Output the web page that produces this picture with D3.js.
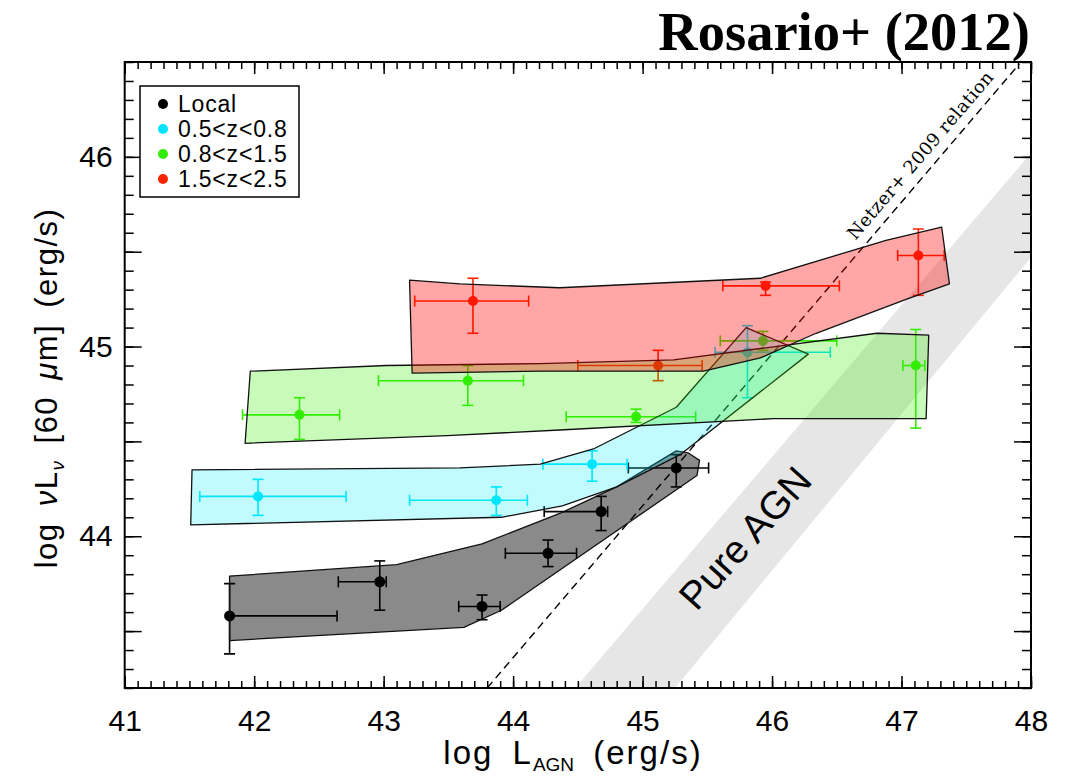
<!DOCTYPE html>
<html>
<head>
<meta charset="utf-8">
<script src="https://d3js.org/d3.v7.min.js"></script>
<style>
  body { margin: 0; background: white; }
  svg { display: block; }
  .tick text { font-family: "Liberation Sans", Arial, sans-serif; font-size: 30px; fill: black; }
  .tick line { stroke: black; stroke-width: 1.5; }
</style>
</head>
<body>
<svg width="1085" height="782"></svg>
<script>
// ---- data ----
// points: [x, y, xLow, xHigh, yLow, yHigh]
const localPts = [
  [41.81, 43.58, 41.81, 42.64, 43.38, 43.75],
  [42.97, 43.76, 42.65, 43.02, 43.61, 43.87],
  [43.76, 43.63, 43.58, 43.90, 43.56, 43.69],
  [44.27, 43.91, 43.94, 44.49, 43.84, 43.98],
  [44.68, 44.13, 44.24, 44.73, 44.03, 44.21],
  [45.26, 44.36, 44.89, 45.51, 44.26, 44.43]
];
const cyanPts = [
  [42.03, 44.21, 41.58, 42.71, 44.11, 44.30],
  [43.87, 44.19, 43.20, 44.11, 44.11, 44.26],
  [44.61, 44.38, 44.23, 44.88, 44.29, 44.45],
  [45.81, 44.97, 45.56, 46.45, 44.73, 45.11]
];
const greenPts = [
  [42.35, 44.64, 41.91, 42.66, 44.51, 44.73],
  [43.65, 44.82, 42.96, 44.08, 44.69, 44.90],
  [44.95, 44.63, 44.41, 45.41, 44.60, 44.67],
  [45.93, 45.03, 45.60, 46.50, 44.98, 45.08],
  [47.11, 44.90, 47.01, 47.18, 44.57, 45.09]
];
const redPts = [
  [43.69, 45.24, 43.24, 44.12, 45.07, 45.36],
  [45.12, 44.90, 44.50, 45.46, 44.82, 44.98],
  [45.95, 45.32, 45.62, 46.52, 45.27, 45.34],
  [47.13, 45.48, 46.97, 47.33, 45.27, 45.62]
];

// shaded regions: [x, y] vertices
const localPoly = [[41.81,43.79],[43.10,43.85],[43.76,43.96],[44.36,44.12],[44.80,44.26],[45.26,44.45],
  [45.35,44.44],[45.44,44.40],[45.42,44.32],[43.91,43.61],[43.62,43.52],[41.81,43.45]];
const cyanPoly = [[41.52,44.35],[43.59,44.36],[44.21,44.38],[44.62,44.46],[45.26,44.68],[45.80,45.10],
  [46.28,44.96],[45.29,44.43],[44.80,44.26],[44.38,44.16],[43.91,44.10],[41.51,44.06]];
const greenPoly = [[41.97,44.87],[43.02,44.90],[44.21,44.91],[45.24,44.93],[46.81,45.07],[47.21,45.06],
  [47.19,44.62],[46.01,44.62],[44.36,44.56],[43.49,44.53],[41.93,44.49]];
const redPoly = [[43.20,45.35],[43.59,45.33],[44.36,45.31],[45.91,45.36],[46.88,45.56],[47.31,45.63],
  [47.37,45.33],[47.04,45.25],[46.34,45.07],[45.91,44.94],[45.47,44.87],[44.21,44.87],[43.22,44.86]];

const pureAGN = [[44.48,43.2],[48.0,46.02],[48.0,45.47],[45.25,43.2]];
const netzerLine = [[43.80,43.2],[47.91,46.49]];

const groupNames = ["Local", "0.5<z<0.8", "0.8<z<1.5", "1.5<z<2.5"];
const groupColors = ["#000000", "#00e4ff", "#33ee00", "#ff2200"];
const groupFills = ["#000000", "#00eeff", "#33ee00", "#ff0000"];
const groupOpacity = [0.46, 0.24, 0.27, 0.35];

const xMajor = [41, 42, 43, 44, 45, 46, 47, 48];
const xMinor = d3.range(410, 481).map(d => d / 10);
const yMajor = [43.5, 44, 44.5, 45, 45.5, 46];
const yMinor = d3.range(432, 466).map(d => d / 10);

// ---- chart ----
const svg = d3.select("svg");
const pL = 124.7, pR = 1031, pT = 62, pB = 688;

const x = d3.scaleLinear().domain([41, 48]).range([pL, pR]);
const y = d3.scaleLinear().domain([43.2, 46.5]).range([pB, pT]);

svg.append("clipPath").attr("id", "plot")
  .append("rect").attr("x", pL).attr("y", pT).attr("width", pR - pL).attr("height", pB - pT);

const plot = svg.append("g").attr("clip-path", "url(#plot)");

const line = d3.line().x(d => x(d[0])).y(d => y(d[1]));

// pure AGN band
plot.append("path")
  .attr("d", line(pureAGN) + "Z")
  .attr("fill", "#e6e6e6");

svg.append("text")
  .attr("transform", "translate(745,538) rotate(-48)")
  .attr("text-anchor", "middle")
  .attr("dy", "0.35em")
  .style("font-family", "Liberation Sans, Arial, sans-serif")
  .style("font-size", "39px")
  .text("Pure AGN");

// Netzer relation
plot.append("path")
  .attr("d", line(netzerLine))
  .attr("fill", "none")
  .attr("stroke", "black")
  .attr("stroke-width", 1.4)
  .attr("stroke-dasharray", "8,5");

const nAng = Math.atan2(y(netzerLine[0][1]) - y(netzerLine[1][1]), x(netzerLine[1][0]) - x(netzerLine[0][0])) * 180 / Math.PI;
const nx = 47.24, ny = netzerLine[0][1] + (nx - netzerLine[0][0]) * (netzerLine[1][1] - netzerLine[0][1]) / (netzerLine[1][0] - netzerLine[0][0]);
svg.append("text")
  .attr("transform", "translate(" + x(nx) + "," + y(ny) + ") rotate(" + (-nAng) + ")")
  .attr("text-anchor", "middle")
  .attr("dy", -10)
  .style("font-family", "DejaVu Serif, serif")
  .style("font-size", "18px")
  .style("letter-spacing", "0.4px")
  .text("Netzer+ 2009 relation");

// error bars and points first, shaded regions drawn over them
const groups = [localPts, cyanPts, greenPts, redPts];
const polys = [localPoly, cyanPoly, greenPoly, redPoly];
const cap = 5.5;

groups.forEach(function(pts, i) {
  const g = plot.append("g").attr("stroke", groupColors[i]).attr("stroke-width", 1.6);
  pts.forEach(function(p) {
    g.append("line").attr("x1", x(p[2])).attr("x2", x(p[3])).attr("y1", y(p[1])).attr("y2", y(p[1]));
    g.append("line").attr("x1", x(p[0])).attr("x2", x(p[0])).attr("y1", y(p[4])).attr("y2", y(p[5]));
    g.append("line").attr("x1", x(p[2])).attr("x2", x(p[2])).attr("y1", y(p[1]) - cap).attr("y2", y(p[1]) + cap);
    g.append("line").attr("x1", x(p[3])).attr("x2", x(p[3])).attr("y1", y(p[1]) - cap).attr("y2", y(p[1]) + cap);
    g.append("line").attr("x1", x(p[0]) - cap).attr("x2", x(p[0]) + cap).attr("y1", y(p[4])).attr("y2", y(p[4]));
    g.append("line").attr("x1", x(p[0]) - cap).attr("x2", x(p[0]) + cap).attr("y1", y(p[5])).attr("y2", y(p[5]));
  });
  g.selectAll("circle")
    .data(pts)
    .enter()
    .append("circle")
    .attr("cx", d => x(d[0]))
    .attr("cy", d => y(d[1]))
    .attr("r", i == 0 ? 5.5 : 5)
    .attr("stroke", "none")
    .attr("fill", groupColors[i]);
});

polys.forEach(function(poly, i) {
  plot.append("path")
    .attr("d", line(poly) + "Z")
    .attr("fill", groupFills[i])
    .attr("fill-opacity", groupOpacity[i])
    .attr("stroke", "#111")
    .attr("stroke-width", 1.3)
    .attr("stroke-linejoin", "round");
});

// axes, ticks inward
function noLabel() { return ""; }
svg.append("g").attr("transform", "translate(0," + pB + ")")
  .call(d3.axisBottom(x).tickValues(xMinor).tickSizeInner(-7).tickSizeOuter(0).tickFormat(noLabel));
svg.append("g").attr("transform", "translate(0," + pB + ")")
  .call(d3.axisBottom(x).tickValues(xMajor).tickSizeInner(-12).tickSizeOuter(0).tickPadding(22).tickFormat(d3.format("d")));
svg.append("g").attr("transform", "translate(0," + pT + ")")
  .call(d3.axisTop(x).tickValues(xMinor).tickSizeInner(-7).tickSizeOuter(0).tickFormat(noLabel));
svg.append("g").attr("transform", "translate(0," + pT + ")")
  .call(d3.axisTop(x).tickValues(xMajor).tickSizeInner(-12).tickSizeOuter(0).tickFormat(noLabel));

svg.append("g").attr("transform", "translate(" + pL + ",0)")
  .call(d3.axisLeft(y).tickValues(yMinor).tickSizeInner(-9).tickSizeOuter(0).tickFormat(noLabel));
svg.append("g").attr("transform", "translate(" + pL + ",0)")
  .call(d3.axisLeft(y).tickValues(yMajor).tickSizeInner(-17).tickSizeOuter(0).tickPadding(12)
    .tickFormat(d => Number.isInteger(d) ? d : ""));
svg.append("g").attr("transform", "translate(" + pR + ",0)")
  .call(d3.axisRight(y).tickValues(yMinor).tickSizeInner(-9).tickSizeOuter(0).tickFormat(noLabel));
svg.append("g").attr("transform", "translate(" + pR + ",0)")
  .call(d3.axisRight(y).tickValues(yMajor).tickSizeInner(-17).tickSizeOuter(0).tickFormat(noLabel));

svg.selectAll(".domain").remove();

svg.append("rect")
  .attr("x", pL).attr("y", pT).attr("width", pR - pL).attr("height", pB - pT)
  .attr("fill", "none").attr("stroke", "black").attr("stroke-width", 2);

// axis titles
const xl = svg.append("text")
  .attr("x", 573).attr("y", 764)
  .attr("text-anchor", "middle")
  .style("font-family", "Liberation Sans, Arial, sans-serif")
  .style("font-size", "33px")
  .style("letter-spacing", "2px")
  .style("word-spacing", "8px");
xl.append("tspan").text("log L");
xl.append("tspan").attr("dy", 7).style("font-size", "19px").style("letter-spacing", "0px").text("AGN");
xl.append("tspan").attr("dy", -7).text(" (erg/s)");

const yl = svg.append("text")
  .attr("transform", "translate(57,388) rotate(-90)")
  .attr("text-anchor", "middle")
  .style("font-family", "Liberation Sans, Arial, sans-serif")
  .style("font-size", "31px")
  .style("letter-spacing", "1.5px")
  .style("word-spacing", "6px");
yl.append("tspan").text("log ");
yl.append("tspan").style("font-style", "italic").text("ν");
yl.append("tspan").text("L");
yl.append("tspan").attr("dy", 7).style("font-size", "19px").style("font-style", "italic").text("ν");
yl.append("tspan").attr("dy", -7).text(" [60 ");
yl.append("tspan").style("font-style", "italic").text("μ");
yl.append("tspan").text("m] (erg/s)");

// title
svg.append("text")
  .attr("x", 1030).attr("y", 50)
  .attr("text-anchor", "end")
  .style("font-family", "Liberation Serif, Times New Roman, serif")
  .style("font-weight", "bold")
  .style("font-size", "54.5px")
  .text("Rosario+ (2012)");

// legend
const legend = svg.append("g");
legend.append("rect")
  .attr("x", 140).attr("y", 86).attr("width", 159).attr("height", 111)
  .attr("fill", "white").attr("stroke", "black").attr("stroke-width", 1.5);
groupNames.forEach(function(name, i) {
  legend.append("circle").attr("cx", 163).attr("cy", 104 + 25 * i).attr("r", 5).attr("fill", groupColors[i]);
  legend.append("text")
    .attr("x", 178).attr("y", 104 + 25 * i).attr("dy", "0.36em")
    .style("font-family", "Liberation Sans, Arial, sans-serif")
    .style("font-size", "23px")
    .style("letter-spacing", "0.8px")
    .text(name);
});
</script>
</body>
</html>
